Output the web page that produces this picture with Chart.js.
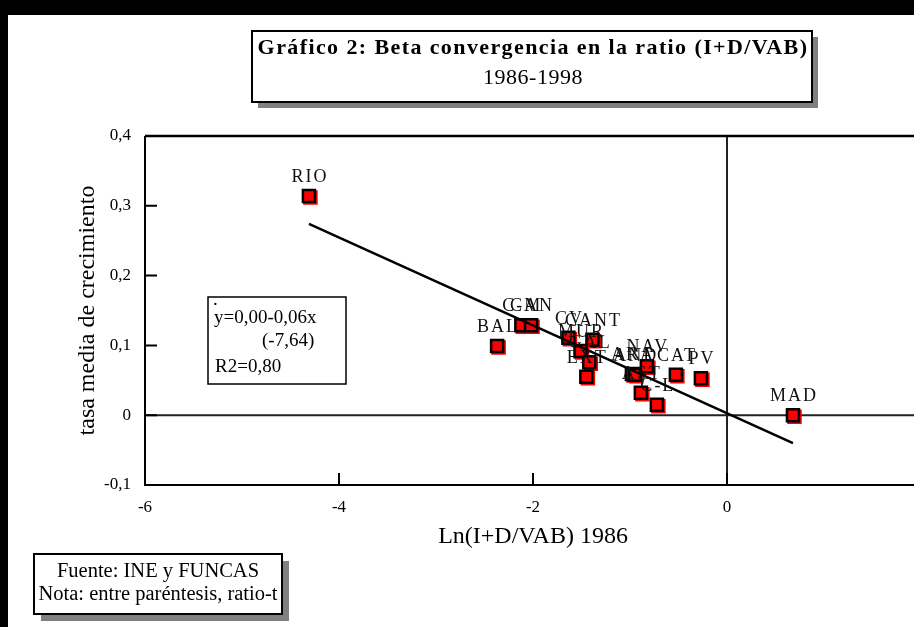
<!DOCTYPE html>
<html>
<head>
<meta charset="utf-8">
<script src="https://cdn.jsdelivr.net/npm/chart.js@4.4.1/dist/chart.umd.min.js"></script>
<style>
    html, body { margin: 0; padding: 0; background: #fff; overflow: hidden; }
    #chart { display: block; }
</style>
</head>
<body>
<canvas id="chart" width="932" height="627"></canvas>
<script>
// Datos
const regiones = ['RIO', 'BAL', 'C-M', 'CAN', 'CV', 'CANT', 'MUR', 'GAL', 'EXT', 'ARA', 'AND', 'NAV', 'AST', 'C-L', 'CAT', 'PV', 'MAD'];
const lnRatio1986 = [-4.31, -2.37, -2.12, -2.02, -1.635, -1.387, -1.51, -1.42, -1.45, -0.98, -0.95, -0.826, -0.888, -0.723, -0.527, -0.269, 0.68];
const tasaCrecimiento = [0.314, 0.099, 0.129, 0.129, 0.111, 0.108, 0.092, 0.076, 0.055, 0.059, 0.058, 0.070, 0.032, 0.015, 0.058, 0.053, 0.0];
const rectaX = [-4.31, 0.68];
const rectaY = [0.274, -0.040];
const xTicks = [-6, -4, -2, 0, 2];
const yTicks = [-0.1, 0, 0.1, 0.2, 0.3, 0.4];

const SERIF = '"Liberation Serif", "DejaVu Serif", serif';

function fmt(v) {
    const r = Math.round(v * 10) / 10;
    return r === 0 ? '0' : String(r).replace('.', ',');
}

function boxWithShadow(ctx, x, y, w, h, off) {
    ctx.fillStyle = '#808080';
    ctx.fillRect(x + off, y + off, w, h);
    ctx.fillStyle = '#fff';
    ctx.fillRect(x, y, w, h);
    ctx.strokeStyle = '#000';
    ctx.lineWidth = 2;
    ctx.strokeRect(x, y, w, h);
}

// Marco, ejes en cero, marcas interiores y cajas de texto
const decoracion = {
    id: 'decoracion',
    beforeDraw(chart) {
        const ctx = chart.ctx;
        ctx.save();
        ctx.fillStyle = '#fff';
        ctx.fillRect(0, 0, chart.width, chart.height);
        ctx.fillStyle = '#000';
        ctx.fillRect(0, 0, chart.width, 15);
        ctx.fillRect(0, 0, 8, chart.height);
        ctx.restore();
    },
    beforeDatasetsDraw(chart) {
        const ctx = chart.ctx;
        const a = chart.chartArea;
        const xs = chart.scales.x, ys = chart.scales.y;
        ctx.save();
        // lineas en cero
        ctx.strokeStyle = '#222';
        ctx.lineWidth = 2;
        const y0 = ys.getPixelForValue(0), x0 = xs.getPixelForValue(0);
        ctx.beginPath();
        ctx.moveTo(a.left, y0); ctx.lineTo(a.right, y0);
        ctx.moveTo(x0, a.top); ctx.lineTo(x0, a.bottom);
        ctx.stroke();
        // marco
        ctx.strokeStyle = '#000';
        ctx.lineWidth = 2.5;
        ctx.beginPath();
        ctx.moveTo(a.left, a.top); ctx.lineTo(a.right, a.top);
        ctx.stroke();
        ctx.lineWidth = 2;
        ctx.beginPath();
        ctx.moveTo(a.left, a.top); ctx.lineTo(a.left, a.bottom); ctx.lineTo(a.right, a.bottom); ctx.lineTo(a.right, a.top);
        ctx.stroke();
        // marcas hacia dentro
        ctx.beginPath();
        yTicks.forEach(v => {
            const py = ys.getPixelForValue(v);
            ctx.moveTo(a.left, py); ctx.lineTo(a.left + 12, py);
        });
        xTicks.forEach(v => {
            const px = xs.getPixelForValue(v);
            ctx.moveTo(px, a.bottom); ctx.lineTo(px, a.bottom - 12);
        });
        ctx.stroke();
        ctx.restore();
    },
    beforeDatasetDraw(chart, args) {
        if (args.index === 1) {
            chart.ctx.save();
            chart.ctx.shadowColor = '#ff0000';
            chart.ctx.shadowOffsetX = 1.5;
            chart.ctx.shadowOffsetY = 1.5;
            chart.ctx.shadowBlur = 0;
        }
    },
    afterDatasetDraw(chart, args) {
        if (args.index === 1) chart.ctx.restore();
    },
    afterDatasetsDraw(chart) {
        const ctx = chart.ctx;
        const meta = chart.getDatasetMeta(1);
        ctx.save();
        ctx.font = '18px ' + SERIF;
        ctx.letterSpacing = '2px';
        ctx.fillStyle = '#111';
        ctx.textAlign = 'center';
        ctx.textBaseline = 'alphabetic';
        meta.data.forEach((pt, i) => {
            ctx.fillText(regiones[i], pt.x + 1, pt.y - 14);
        });
        ctx.restore();
    },
    afterDraw(chart) {
        const ctx = chart.ctx;
        ctx.save();
        // titulo
        boxWithShadow(ctx, 252, 31, 560, 71, 6);
        ctx.fillStyle = '#000';
        ctx.textAlign = 'center';
        ctx.textBaseline = 'middle';
        ctx.font = 'bold 22px ' + SERIF;
        ctx.letterSpacing = '1.4px';
        ctx.fillText('Gráfico 2: Beta convergencia en la ratio (I+D/VAB)', 533, 48);
        ctx.font = '22px ' + SERIF;
        ctx.letterSpacing = '0.5px';
        ctx.fillText('1986-1998', 533, 78);
        ctx.letterSpacing = '0px';

        // ecuacion
        ctx.fillStyle = '#fff';
        ctx.fillRect(208, 297, 138, 87);
        ctx.strokeStyle = '#000';
        ctx.lineWidth = 1.5;
        ctx.strokeRect(208, 297, 138, 87);
        ctx.fillStyle = '#000';
        ctx.textAlign = 'left';
        ctx.textBaseline = 'alphabetic';
        ctx.font = '19px ' + SERIF;
        ctx.fillText('.', 213, 305);
        ctx.fillText('y=0,00-0,06x', 214, 323);
        ctx.fillText('(-7,64)', 262, 346);
        ctx.fillText('R2=0,80', 215, 372);

        // fuente
        boxWithShadow(ctx, 34, 554, 248, 60, 7);
        ctx.fillStyle = '#000';
        ctx.textAlign = 'center';
        ctx.font = '20.5px ' + SERIF;
        ctx.fillText('Fuente: INE y FUNCAS', 158, 577);
        ctx.fillText('Nota: entre paréntesis, ratio-t', 158, 600);
        ctx.restore();
    }
};

const ctx = document.getElementById('chart').getContext('2d');
const chart = new Chart(ctx, {
    type: 'scatter',
    data: {
        datasets: [
            {
                type: 'line',
                label: 'recta',
                data: rectaX.map((x, i) => ({ x: x, y: rectaY[i] })),
                borderColor: '#000',
                borderWidth: 2.5,
                pointRadius: 0,
                fill: false
            },
            {
                label: 'regiones',
                data: lnRatio1986.map((x, i) => ({ x: x, y: tasaCrecimiento[i] })),
                pointStyle: 'rect',
                pointRadius: 8.5,
                pointHoverRadius: 8.5,
                backgroundColor: '#ff0000',
                borderColor: '#000',
                borderWidth: 2.5
            }
        ]
    },
    options: {
        responsive: false,
        devicePixelRatio: 1,
        animation: false,
        events: [],
        layout: { padding: { top: 136, right: 6, left: 0, bottom: 0 } },
        plugins: {
            legend: { display: false },
            title: { display: false },
            tooltip: { enabled: false }
        },
        scales: {
            x: {
                type: 'linear',
                min: -6,
                max: 2,
                afterBuildTicks: s => { s.ticks = xTicks.map(v => ({ value: v })); },
                afterFit: s => { s.height = 142; s.paddingLeft = 0; s.paddingRight = 0; },
                grid: { display: false, drawTicks: false },
                border: { display: false },
                ticks: {
                    padding: 12,
                    color: '#000',
                    font: { family: SERIF, size: 17 },
                    callback: v => fmt(v)
                },
                title: {
                    display: true,
                    text: 'Ln(I+D/VAB) 1986',
                    color: '#000',
                    font: { family: SERIF, size: 24 },
                    padding: { top: 0, bottom: 76 }
                }
            },
            y: {
                type: 'linear',
                min: -0.1,
                max: 0.4,
                afterBuildTicks: s => { s.ticks = yTicks.map(v => ({ value: v })); },
                afterFit: s => { s.width = 145; s.paddingTop = 0; s.paddingBottom = 0; },
                grid: { display: false, drawTicks: false },
                border: { display: false },
                ticks: {
                    padding: 14,
                    color: '#000',
                    font: { family: SERIF, size: 17 },
                    callback: v => fmt(v)
                },
                title: {
                    display: true,
                    text: 'tasa media de crecimiento',
                    color: '#000',
                    font: { family: SERIF, size: 24 },
                    padding: { top: 73, bottom: 0 }
                }
            }
        }
    },
    plugins: [decoracion]
});
</script>
</body>
</html>
